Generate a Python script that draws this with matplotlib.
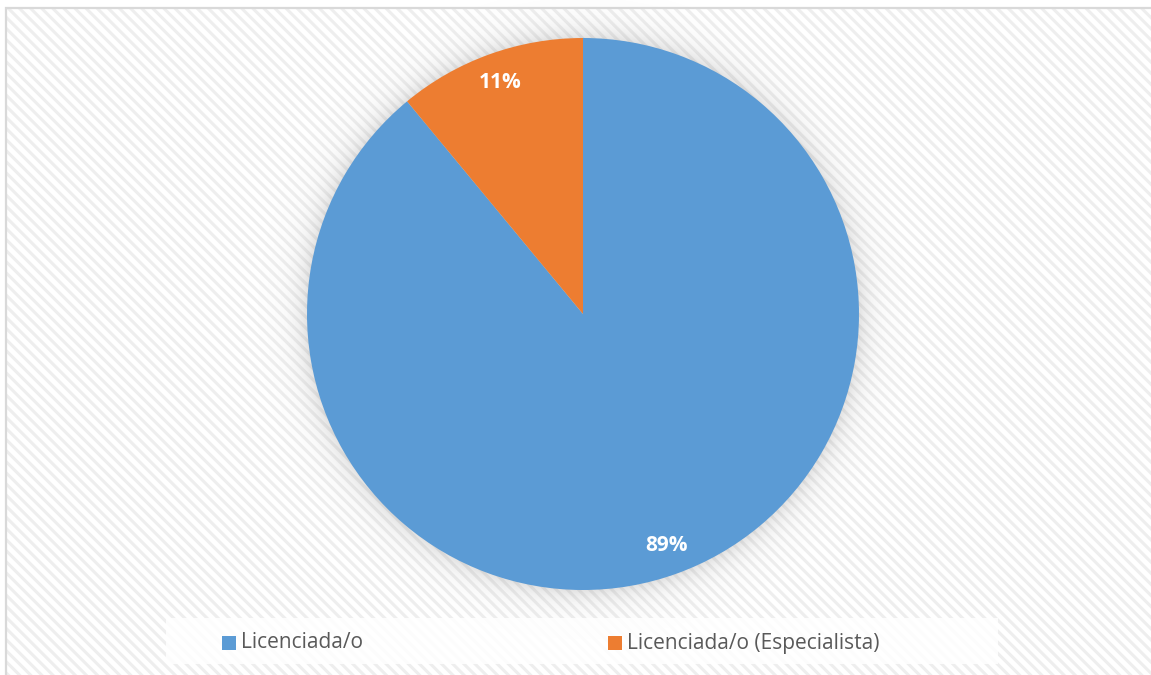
import numpy as np
import matplotlib.pyplot as plt
from matplotlib.patches import Rectangle

plt.rcParams['font.family'] = ['Open Sans', 'DejaVu Sans']
plt.rcParams['hatch.linewidth'] = 2.2

# Distribución por titulación
labels = ['Licenciada/o', 'Licenciada/o (Especialista)']
values = [89, 11]
colors = ['#5b9bd5', '#ed7d31']

W, H = 1151, 675
fig = plt.figure(figsize=(W / 100, H / 100), dpi=100)
fig.patch.set_facecolor('white')

# fondo rayado y marco del área del gráfico
bg = Rectangle((6 / W, 0), 1.2, 1 - 8 / H, transform=fig.transFigure,
               facecolor='white', edgecolor='#eeeeee', hatch='\\\\\\',
               linewidth=0, zorder=-2)
fig.patches.append(bg)
frame = Rectangle((6 / W, -0.1), 1.2, 1.1 - 8.5 / H, transform=fig.transFigure,
                  facecolor='none', edgecolor='#d9d9d9', linewidth=1.6, zorder=-1)
fig.patches.append(frame)

# ejes del pastel: centro (583, 314), radio 276 px
cx, cy, R = 583, 314, 276
pad = 1.25
ax = fig.add_axes([(cx - R * pad) / W, (H - cy - R * pad) / H,
                   2 * R * pad / W, 2 * R * pad / H])
ax.set_zorder(1)
ax.set_facecolor('none')

# sombra difusa alrededor del pastel
n = 400
g = np.linspace(-pad, pad, n)
xx, yy = np.meshgrid(g, g)
rr = np.sqrt(xx ** 2 + yy ** 2)
alpha = 0.27 * np.exp(-np.clip(rr - 0.99, 0, None) / 0.045)
shadow = np.zeros((n, n, 4))
shadow[..., :3] = 0.45
shadow[..., 3] = alpha
ax.imshow(shadow, extent=(-pad, pad, -pad, pad), origin='lower', zorder=0,
          interpolation='bilinear')

wedges, texts, autotexts = ax.pie(
    values, colors=colors, startangle=90, counterclock=False,
    autopct='%d%%', pctdistance=0.89, radius=1,
    wedgeprops=dict(linewidth=0), textprops=dict(color='white', fontsize=15,
                                                 fontweight='bold'))
for w in wedges:
    w.set_zorder(2)
for t in autotexts:
    t.set_zorder(3)
ax.set_xlim(-pad, pad)
ax.set_ylim(-pad, pad)
ax.set_aspect('auto')
ax.axis('off')

# leyenda inferior
leg_box = Rectangle((166 / W, (H - 664) / H), (998 - 166) / W, 46 / H,
                    transform=fig.transFigure, facecolor='white', alpha=0.85,
                    edgecolor='none', zorder=2)
fig.patches.append(leg_box)
marker_x = [222, 608]
ty = H - 643
for mx, lab, col in zip(marker_x, labels, colors):
    fig.patches.append(Rectangle((mx / W, (ty - 7) / H), 14 / W, 14 / H,
                                 transform=fig.transFigure, facecolor=col,
                                 edgecolor='none', zorder=3))
    fig.text((mx + 19) / W, ty / H, lab, fontsize=15, color='#595959',
             va='center', ha='left', zorder=4)

fig.savefig('out.png', dpi=100)
